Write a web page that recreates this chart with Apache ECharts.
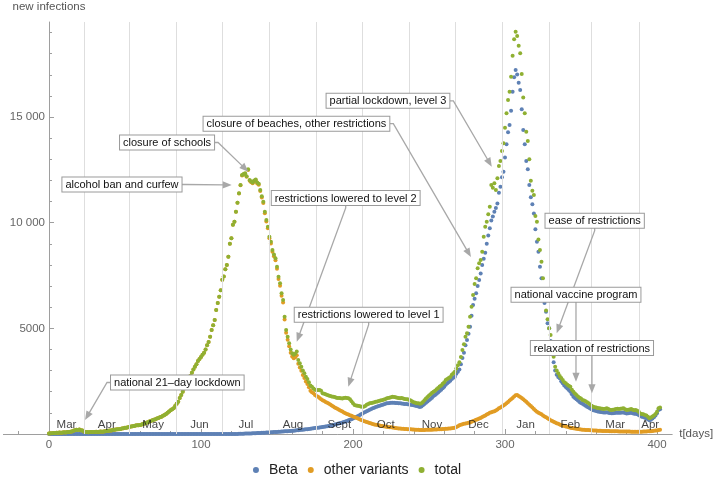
<!DOCTYPE html>
<html><head><meta charset="utf-8">
<script src="https://cdn.jsdelivr.net/npm/echarts@6/dist/echarts.min.js"></script>
<style>html,body{margin:0;padding:0;background:#fff}#c{width:714px;height:477px}</style>
</head><body><div id="c"></div>
<script>
// daily new infections, day 0 .. 402
const total = [
20,30,40,50,50,60,60,70,60,70,
80,70,90,100,110,120,150,180,200,190,
210,180,160,120,100,90,80,90,100,90,
100,110,100,110,120,110,120,130,140,150,
160,170,190,200,210,220,230,240,260,270,
290,300,320,340,350,370,380,400,410,420,
430,450,480,500,530,560,590,620,650,680,
700,730,760,790,820,860,900,950,1000,1060,
1120,1170,1215,1320,1430,1530,1700,1850,2000,2150,
2300,2450,2600,2750,2900,3050,3185,3300,3450,3550,
3650,3750,3850,4000,4200,4350,4600,4920,5150,5400,
5870,6200,6500,6800,7300,7450,7800,8000,8390,9000,
9260,9900,10050,10520,10950,11390,11785,12255,12300,12340,
12200,12530,12020,11950,11900,12000,12050,11900,11850,11550,
11250,10990,10520,10130,9810,9340,9100,8710,8500,8315,
7920,7445,7130,6660,6340,5550,4920,4600,4290,4000,
3820,3750,3800,3900,3500,3345,3185,3000,2870,2710,
2600,2450,2300,2240,2150,2100,2080,2080,2080,2050,
1925,1900,1880,1850,1820,1800,1780,1765,1750,1720,
1700,1700,1690,1680,1700,1720,1700,1690,1650,1550,
1450,1370,1350,1340,1320,1300,1290,1290,1330,1380,
1420,1450,1470,1480,1500,1530,1540,1560,1580,1600,
1620,1650,1680,1700,1720,1740,1765,1750,1740,1720,
1700,1690,1700,1680,1660,1650,1640,1610,1580,1540,
1500,1480,1460,1450,1430,1450,1520,1600,1680,1750,
1820,1880,1950,2000,2050,2120,2180,2250,2300,2380,
2450,2555,2600,2650,2700,2800,2870,2950,3100,3250,
3400,3650,3975,4250,4600,4765,5080,5550,6025,6580,
7100,7370,7840,8080,8235,8630,9340,9810,10050,10400,
10760,11785,11650,11865,11550,12100,12680,12920,13390,13760,
14500,15180,15810,16200,16910,17900,18680,19040,18835,18380,
18020,17040,15930,15180,14310,13870,13000,11990,11510,11310,
10320,10050,9200,8710,8150,7370,6500,5840,5430,5000,
4690,4100,3660,3185,3000,2870,2750,2650,2555,2450,
2400,2330,2280,2240,2100,2000,1920,1845,1780,1720,
1680,1610,1580,1550,1500,1450,1400,1340,1290,1270,
1250,1230,1215,1210,1200,1180,1200,1215,1180,1150,
1140,1150,1160,1180,1200,1180,1200,1210,1215,1170,
1135,1150,1160,1180,1150,1130,1135,1100,1050,975,
950,930,900,880,820,740,780,830,880,950,
1050,1215,1250
];
const beta = [
0,0,0,0,0,0,0,0,0,0,0,0,0,0,0,0,0,0,0,0,0,0,0,0,0,
0,0,0,0,0,0,0,0,0,0,0,0,0,0,0,0,0,0,0,0,0,0,0,0,0,
0,0,0,0,0,0,0,0,0,0,0,0,0,0,0,0,0,0,0,0,0,0,0,0,0,
0,0,0,0,0,0,0,0,0,0,0,0,0,0,0,0,0,0,0,0,0,0,0,0,0,
0,0,0,0,0,0,0,0,0,0,0,0,0,0,0,0,0,0,0,0,0,0,0,0,0,
10,12,14,16,18,
20,22,25,28,30,35,38,42,46,50,
55,60,64,68,72,76,80,85,90,95,
100,105,110,115,120,125,130,135,140,145,
150,158,165,172,180,190,198,206,214,222,
230,240,250,260,270,280,290,300,310,320,
330,340,350,362,375,390,405,425,445,465,
485,505,525,545,570,595,620,645,670,700,
735,770,805,840,880,920,960,1000,1040,1075,
1110,1150,1185,1215,1245,1275,1300,1325,1350,1375,
1400,1425,1450,1460,1470,1475,1480,1475,1470,1465,
1460,1450,1445,1435,1425,1415,1405,1395,1385,1375,
1360,1340,1320,1300,1280,1300,1360,1420,1480,1540,
1600,1660,1720,1800,1850,1900,1970,2040,2100,2170,
2240,2330,2400,2460,2520,2600,2660,2710,2850,2950,
3050,3300,3600,3850,4200,4450,4750,5080,5600,6100,
6400,6660,7000,7290,7600,8000,8300,8580,9000,9400,
9735,10100,10300,10520,10700,10910,11420,11700,12150,12410,
13090,13710,14280,14620,15300,16200,16880,17230,17020,16630,
16280,15370,14390,13710,12920,12530,11785,11200,10880,10440,
9690,9100,8630,7920,7370,6800,6200,5790,5240,5000,
4400,3800,3400,3000,2800,2700,2635,2500,2400,2300,
2220,2150,2080,2000,1880,1765,1700,1640,1580,1520,
1470,1430,1390,1340,1290,1250,1210,1170,1130,1110,
1090,1070,1055,1040,1030,1020,1020,1030,1010,990,
980,985,990,1000,1010,1000,1010,1020,1020,990,
975,985,990,1000,980,960,960,940,900,850,
820,800,770,740,695,650,680,730,790,870,
980,1135,1170
];
const other = [
20,30,40,50,50,60,60,70,60,70,
80,70,90,100,110,120,150,180,200,190,
210,180,160,120,100,90,80,90,100,90,
100,110,100,110,120,110,120,130,140,150,
160,170,190,200,210,220,230,240,260,270,
290,300,320,340,350,370,380,400,410,420,
430,450,480,500,530,560,590,620,650,680,
700,730,760,790,820,860,900,950,1000,1060,
1120,1170,1215,1320,1430,1530,1700,1850,2000,2150,
2300,2450,2600,2750,2900,3050,3185,3300,3450,3550,
3650,3750,3850,4000,4200,4350,4600,4920,5150,5400,
5870,6200,6500,6800,7300,7450,7800,8000,8390,9000,
9260,9900,10050,10520,10950,11380,11770,12240,12280,12320,
12180,12500,11990,11920,11870,11960,12010,11860,11800,11500,
11190,10930,10450,10060,9740,9260,9020,8620,8410,8220,
7820,7340,7020,6540,6220,5420,4790,4460,4150,3850,
3670,3590,3630,3730,3320,3150,2990,2790,2650,2490,
2370,2210,2050,1980,1925,1850,1800,1760,1700,1650,
1600,1560,1520,1480,1440,1400,1350,1300,1260,1220,
1180,1140,1100,1060,1020,980,950,920,890,860,
830,800,770,740,710,680,650,620,590,565,
540,515,495,475,455,440,425,410,395,380,
365,355,345,335,325,315,305,295,285,275,
265,255,250,245,240,235,230,225,220,215,
210,205,200,200,195,195,195,195,200,200,
200,205,205,210,210,215,220,225,230,235,
240,245,250,255,260,270,285,300,330,370,
410,440,460,480,495,510,530,550,580,610,
640,670,700,730,760,800,840,880,920,960,
1000,1030,1055,1080,1110,1160,1215,1260,1300,1350,
1400,1450,1520,1580,1640,1700,1770,1830,1845,1800,
1750,1700,1640,1580,1530,1460,1390,1320,1250,1180,
1110,1050,1000,975,930,880,830,790,740,700,
650,610,580,540,510,480,450,420,400,375,
355,340,320,300,285,270,255,245,235,225,
215,205,200,195,190,185,180,175,170,165,
160,155,150,148,146,144,142,140,138,136,
134,132,130,128,126,124,122,120,118,116,
115,114,113,112,111,110,110,110,110,110,
112,115,118,120,125,130,135,140,150,160,
170,190,200
];
// first day of each month (vertical grid lines)
const monthBounds = [23,53,84,114,145,176,206,237,267,298,329,357,388];
const dataEnd = 403;
const monthNames = ['Mar','Apr','May','Jun','Jul','Aug','Sept','Oct','Nov','Dec','Jan','Feb','Mar','Apr'];
const xLabelTicks = [0,100,200,300,400];
const xMinorTicks = [-20,20,40,60,80,120,140,160,180,220,240,260,280,320,340,360,380];
const yLabelTicks = [5000,10000,15000];
const yMinorTicks = [1000,2000,3000,4000,6000,7000,8000,9000,11000,12000,13000,14000,16000,17000,18000,19000];
const annotations = [
 {text:'national 21\u2013day lockdown', side:'left', ax:40.8, ay:2437, tx:23.7, ty:663},
 {text:'alcohol ban and curfew', side:'right', ax:87.2, ay:11810, tx:120.2, ty:11785},
 {text:'closure of schools', side:'right', ax:108.6, ay:13797, tx:131.1, ty:12415},
 {text:'closure of beaches, other restrictions', side:'right', ax:223.9, ay:14686, tx:277.6, ty:8377},
 {text:'partial lockdown, level 3', side:'right', ax:263.4, ay:15770, tx:291.3, ty:12651},
 {text:'restrictions lowered to level 2', side:'bottom', ax:195.2, ay:10839, tx:163, ty:4369},
 {text:'restrictions lowered to level 1', side:'bottom', ax:210.3, ay:5315, tx:196.9, ty:2239},
 {text:'ease of restrictions', side:'bottom', ax:359, ay:9764, tx:334, ty:4766},
 {text:'national vaccine program', side:'bottom', ax:346.7, ay:6262, tx:346.7, ty:2475},
 {text:'relaxation of restrictions', side:'bottom', ax:357.2, ay:3739, tx:357.2, ty:1926}
];

const C_BETA = '#5E81B5', C_OTHER = '#E19C24', C_TOTAL = '#8FB032';
const FONT = '"Liberation Sans", Arial, Helvetica, sans-serif';
const AXIS_C = '#9e9e9e', LABEL_C = '#666';
const MONTH_LABEL_Y = 426;
const X_MIN = -30, X_MAX = 410, Y_MIN = 0, Y_MAX = 19500;
const GRID = {left: 3.4, right: 41.8, top: 22, bottom: 43};

const edges = [0].concat(monthBounds, [dataEnd]);
const monthData = monthNames.map((m, i) => ({value: [(edges[i] + edges[i + 1]) / 2, MONTH_LABEL_Y], name: m}));

const chart = echarts.init(document.getElementById('c'), null, {renderer: 'canvas'});
const pts = arr => arr.map((v, i) => [i, v]);
// distance from grid left edge to the x = 0 position (where the y axis sits)
const plotW = 714 - GRID.left - GRID.right;
const yAxisShift = (0 - X_MIN) / (X_MAX - X_MIN) * plotW;

chart.setOption({
  animation: false,
  backgroundColor: '#fff',
  textStyle: {fontFamily: FONT},
  grid: {left: GRID.left, right: GRID.right, top: GRID.top, bottom: GRID.bottom, containLabel: false, outerBoundsMode: 'none'},
  legend: {
    data: ['Beta', 'other variants', 'total'],
    top: 462, left: 'center', padding: 0,
    icon: 'circle', itemWidth: 16, itemHeight: 6, itemGap: 10,
    textStyle: {fontSize: 14, color: '#222', fontFamily: FONT, lineHeight: 16}
  },
  xAxis: [{
    type: 'value', min: X_MIN, max: X_MAX, position: 'bottom',
    name: 't[days]', nameLocation: 'end', nameGap: 7,
    nameTextStyle: {color: '#555', fontSize: 11.5, fontFamily: FONT},
    axisLine: {show: true, onZero: true, lineStyle: {color: AXIS_C, width: 1}},
    axisTick: {show: true, inside: true, length: 5, customValues: xLabelTicks, lineStyle: {color: AXIS_C}},
    axisLabel: {show: true, customValues: xLabelTicks, margin: 5, color: LABEL_C, fontSize: 11.5, fontFamily: FONT},
    splitLine: {show: false}
  }, {
    type: 'value', min: X_MIN, max: X_MAX, position: 'bottom', offset: 0,
    axisLine: {show: false, onZero: true},
    axisTick: {show: true, inside: true, length: 3, customValues: xMinorTicks, lineStyle: {color: AXIS_C}},
    axisLabel: {show: false},
    splitLine: {show: false}
  }],
  yAxis: [{
    type: 'value', min: Y_MIN, max: Y_MAX, position: 'left',
    name: 'new infections', nameLocation: 'end', nameGap: 9,
    nameTextStyle: {color: '#555', fontSize: 11.5, fontFamily: FONT},
    axisLine: {show: true, onZero: true, lineStyle: {color: AXIS_C, width: 1}},
    axisTick: {show: true, inside: true, length: 5, customValues: yLabelTicks, lineStyle: {color: AXIS_C}},
    axisLabel: {show: false},
    splitLine: {show: false}
  }, {
    type: 'value', min: Y_MIN, max: Y_MAX, position: 'left', offset: 0,
    axisLine: {show: false, onZero: true},
    axisTick: {show: true, inside: true, length: 3, customValues: yMinorTicks, lineStyle: {color: AXIS_C}},
    axisLabel: {show: false},
    splitLine: {show: false}
  }, {
    type: 'value', min: Y_MIN, max: Y_MAX, position: 'left', offset: -yAxisShift,
    axisLine: {show: false, onZero: false},
    axisTick: {show: false},
    axisLabel: {show: true, customValues: yLabelTicks, margin: 4, color: LABEL_C, fontSize: 11.5, fontFamily: FONT,
      hideOverlap: false,
      formatter: v => v >= 10000 ? Math.floor(v / 1000) + ' 000' : String(v)},
    splitLine: {show: false}
  }],
  series: [{
    name: 'gridlines', type: 'scatter', data: [], z: 0, silent: true,
    markLine: {
      silent: true, symbol: ['none', 'none'], animation: false,
      label: {show: false},
      lineStyle: {color: '#dedede', width: 1, type: 'solid'},
      emphasis: {disabled: true},
      data: monthBounds.map(d => ({xAxis: d}))
    }
  }, {
    name: 'Beta', type: 'scatter', data: pts(beta), symbolSize: 4, z: 2,
    itemStyle: {color: C_BETA, opacity: 1}
  }, {
    name: 'other variants', type: 'scatter', data: pts(other), symbolSize: 4, z: 3,
    itemStyle: {color: C_OTHER, opacity: 1}
  }, {
    name: 'total', type: 'scatter', data: pts(total), symbolSize: 4, z: 4,
    itemStyle: {color: C_TOTAL, opacity: 1}
  }, {
    name: 'months', type: 'scatter', data: monthData, symbolSize: 1, z: 5, silent: true,
    itemStyle: {color: 'rgba(0,0,0,0)'},
    label: {show: true, position: 'inside', formatter: p => p.name, color: '#111', fontSize: 11.5, fontFamily: FONT}
  }]
});

function px(x, y) { return chart.convertToPixel({xAxisIndex: 0, yAxisIndex: 0}, [x, y]); }
const g = [];
const LC = '#a8a8a8';
annotations.forEach(a => {
  const A = px(a.ax, a.ay), T = px(a.tx, a.ty);
  let E;
  if (a.side === 'right') E = [A[0] + 4, A[1]];
  else if (a.side === 'left') E = [A[0] - 4, A[1]];
  else E = [A[0], A[1] + 3];
  let dx = T[0] - E[0], dy = T[1] - E[1];
  const L = Math.hypot(dx, dy); dx /= L; dy /= L;
  const HL = 9, HW = 3.6;
  const B = [T[0] - dx * HL, T[1] - dy * HL];
  g.push({type: 'polyline', z: 10, silent: true,
    shape: {points: [A, E, [B[0] + dx, B[1] + dy]]},
    style: {stroke: LC, lineWidth: 1.3, fill: null}});
  g.push({type: 'polygon', z: 11, silent: true,
    shape: {points: [T, [B[0] - dy * HW, B[1] + dx * HW], [B[0] + dy * HW, B[1] - dx * HW]]},
    style: {fill: LC}});
  const st = {text: a.text, font: '11px ' + FONT, fill: '#111', backgroundColor: '#fff',
    borderColor: '#9a9a9a', borderWidth: 1, padding: [2, 3, 1, 3]};
  if (a.side === 'right') { st.align = 'right'; st.verticalAlign = 'middle'; }
  else if (a.side === 'left') { st.align = 'left'; st.verticalAlign = 'middle'; }
  else { st.align = 'center'; st.verticalAlign = 'bottom'; }
  st.textAlign = st.align; st.textVerticalAlign = st.verticalAlign;
  g.push({type: 'text', z: 12, silent: true, x: A[0], y: A[1], style: st});
});
chart.setOption({graphic: g});
</script>
</body></html>
